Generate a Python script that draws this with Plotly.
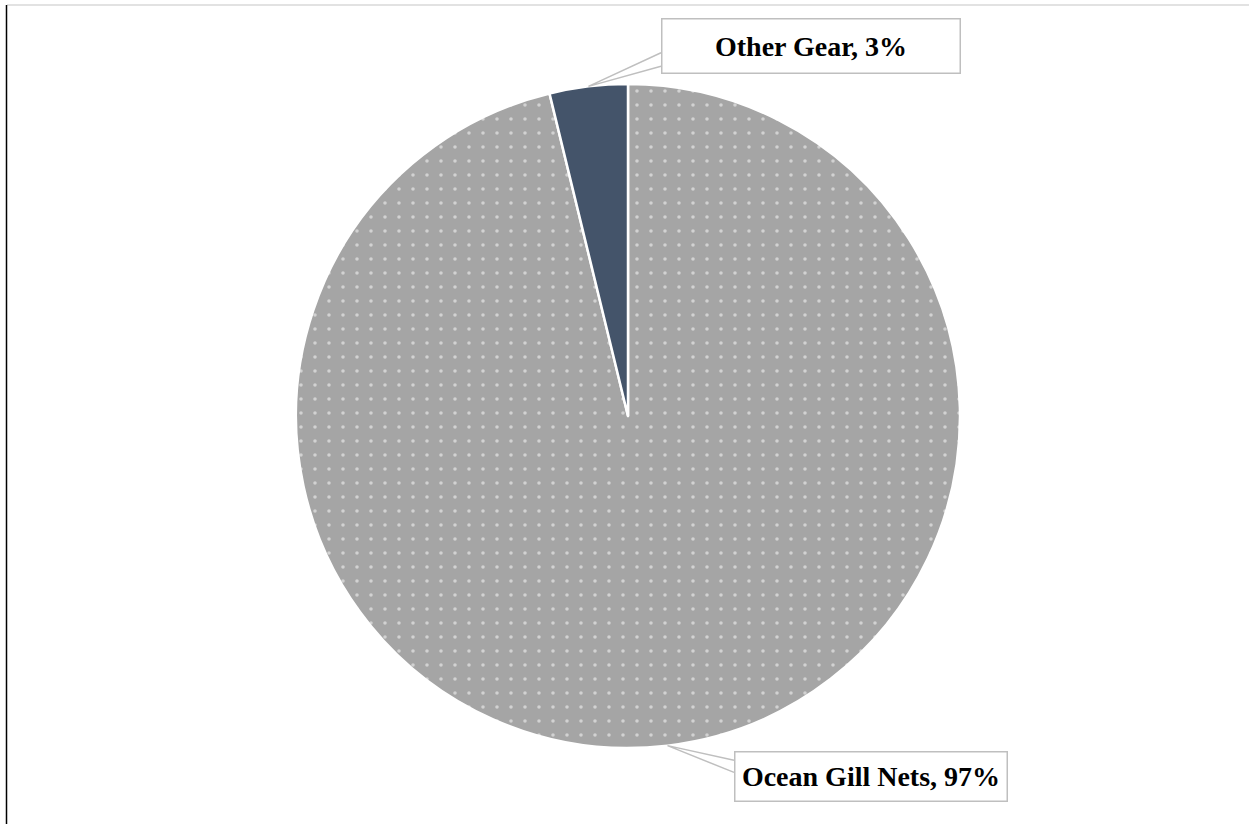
import math
import plotly.graph_objects as go

# ---- data ----
categories = ["Ocean Gill Nets", "Other Gear"]
values = [96.2, 3.8]
label_texts = ["Ocean Gill Nets, 97%", "Other Gear, 3%"]
colors = ["#A5A5A5", "#44546A"]
patterns = [".", ""]

# ---- layout geometry (pixels) ----
W, H = 1249, 824
cx, cy, R = 628, 416, 332

def px(x):
    return x / W

def py(y):
    return 1 - y / H

fig = go.Figure(go.Pie(
    labels=categories,
    values=values,
    sort=False,
    direction="clockwise",
    rotation=0,
    textinfo="none",
    hoverinfo="label+percent",
    showlegend=False,
    marker=dict(
        colors=colors,
        line=dict(color="white", width=2.5),
        pattern=dict(shape=patterns, fgcolor="white", size=14, solidity=0.05,
                     fillmode="overlay"),
    ),
    domain=dict(x=[px(cx - R), px(cx + R)], y=[py(cy + R), py(cy - R)]),
))

# anchor points on the pie edge (mid-angle of each slice)
total = sum(values)
anchors = []
cum = 0
for v in values:
    th = 2 * math.pi * (cum + v / 2) / total
    anchors.append((cx + R * math.sin(th), cy - R * math.cos(th)))
    cum += v

# label boxes: (left, top, width, height)
boxes = [(734, 751, 274, 51), (661, 18, 300, 56)]
wedge = [(0.18, 0.42), (0.62, 0.86)]  # fraction of box height where callout attaches

annotations = []
shapes = []
for i, (txt, (l, t, w, h)) in enumerate(zip(label_texts, boxes)):
    annotations.append(dict(
        x=px(l), y=py(t), xref="paper", yref="paper", xanchor="left", yanchor="top",
        text=f"<b>{txt}</b>", showarrow=False,
        font=dict(family="Liberation Serif, Times New Roman, serif", size=28, color="black"),
        bgcolor="white", bordercolor="#BFBFBF", borderwidth=1.5, borderpad=0,
        width=w - 3, height=h - 3, align="center", valign="middle",
    ))
    ax_, ay_ = anchors[i]
    f1, f2 = wedge[i]
    path = (f"M {px(l)} {py(t + f1 * h)} L {px(ax_)} {py(ay_)} "
            f"L {px(l)} {py(t + f2 * h)}")
    shapes.append(dict(type="path", xref="paper", yref="paper", path=path,
                       line=dict(color="#BFBFBF", width=1.5), layer="above"))

# frame lines
shapes.append(dict(type="line", xref="paper", yref="paper", x0=px(7), x1=1, y0=py(5), y1=py(5),
                   line=dict(color="#D9D9D9", width=1.5)))
shapes.append(dict(type="line", xref="paper", yref="paper", x0=px(6.5), x1=px(6.5), y0=py(5), y1=0,
                   line=dict(color="black", width=1.5)))

fig.update_layout(
    width=W, height=H,
    margin=dict(l=0, r=0, t=0, b=0),
    paper_bgcolor="white", plot_bgcolor="white",
    annotations=annotations, shapes=shapes,
)

fig.write_html(
    "out.html",
    config={"displayModeBar": False},
    post_script="document.body.style.margin='0';document.body.style.overflow='hidden';",
)
